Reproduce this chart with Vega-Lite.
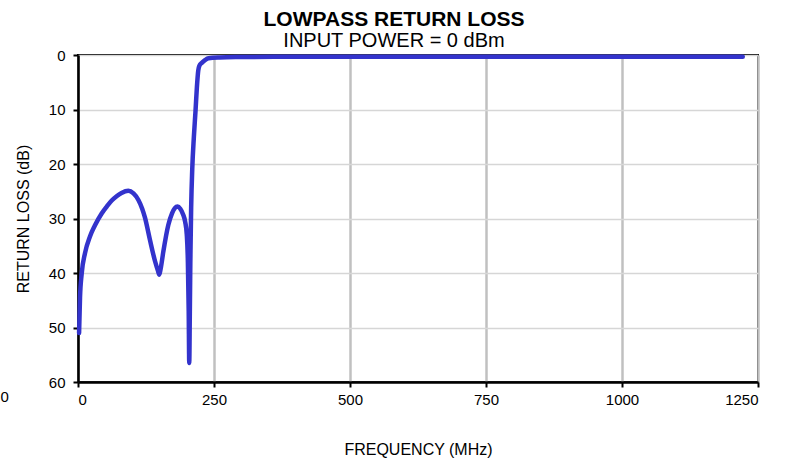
{
  "$schema": "https://vega.github.io/schema/vega-lite/v6.json",
  "width": 680,
  "height": 327,
  "autosize": "none",
  "padding": {"left": 78, "top": 55, "right": 37, "bottom": 81},
  "background": "white",
  "title": {
    "text": "LOWPASS RETURN LOSS",
    "subtitle": "INPUT POWER = 0 dBm",
    "anchor": "middle",
    "frame": "group",
    "dx": -24,
    "dy": 7,
    "font": "Liberation Sans",
    "fontSize": 21,
    "fontWeight": "bold",
    "color": "black",
    "subtitleFont": "Liberation Sans",
    "subtitleFontSize": 20,
    "subtitleColor": "black",
    "subtitlePadding": 1,
    "offset": 4
  },
  "config": {
    "view": {"stroke": "black", "strokeWidth": 2},
    "axis": {
      "labelFont": "Liberation Sans",
      "labelFontSize": 15,
      "labelColor": "black",
      "titleFont": "Liberation Sans",
      "titleFontSize": 16,
      "titleFontWeight": "normal",
      "titleColor": "black",
      "domainColor": "black",
      "domainWidth": 2.5,
      "tickColor": "black",
      "tickWidth": 2,
      "tickSize": 5
    }
  },
  "data": {
    "values": [
      {"f": 2, "rl": 51},
      {"f": 3.7, "rl": 44.5},
      {"f": 6.7, "rl": 40.2},
      {"f": 13, "rl": 36.3},
      {"f": 22, "rl": 33.3},
      {"f": 31, "rl": 31.3},
      {"f": 43.5, "rl": 29.1},
      {"f": 53, "rl": 27.8},
      {"f": 62, "rl": 26.7},
      {"f": 71, "rl": 25.9},
      {"f": 80, "rl": 25.3},
      {"f": 92.5, "rl": 24.9},
      {"f": 102, "rl": 25.4},
      {"f": 111, "rl": 26.6},
      {"f": 118, "rl": 28.2},
      {"f": 123, "rl": 29.8},
      {"f": 132, "rl": 33.8},
      {"f": 141.5, "rl": 37.8},
      {"f": 147, "rl": 39.6},
      {"f": 149.5, "rl": 40.3},
      {"f": 152, "rl": 39.2},
      {"f": 157, "rl": 36},
      {"f": 166, "rl": 31.2},
      {"f": 173, "rl": 29},
      {"f": 178, "rl": 28.1},
      {"f": 183, "rl": 27.8},
      {"f": 188, "rl": 28.2},
      {"f": 193, "rl": 29.2},
      {"f": 197, "rl": 30.6},
      {"f": 200, "rl": 33},
      {"f": 202, "rl": 38},
      {"f": 203.5, "rl": 47},
      {"f": 204.5, "rl": 56.5},
      {"f": 205.5, "rl": 48},
      {"f": 206.5, "rl": 38},
      {"f": 208, "rl": 28},
      {"f": 210, "rl": 21},
      {"f": 213, "rl": 15},
      {"f": 216, "rl": 10.3},
      {"f": 218.5, "rl": 6},
      {"f": 221, "rl": 2.9},
      {"f": 223, "rl": 2.0},
      {"f": 228, "rl": 1.4},
      {"f": 234, "rl": 0.9},
      {"f": 240, "rl": 0.6},
      {"f": 260, "rl": 0.45},
      {"f": 290, "rl": 0.38},
      {"f": 400, "rl": 0.32},
      {"f": 600, "rl": 0.3},
      {"f": 800, "rl": 0.3},
      {"f": 1000, "rl": 0.3},
      {"f": 1222, "rl": 0.33}
    ]
  },
  "layer": [
    {
      "mark": {"type": "line", "color": "#3333CC", "strokeWidth": 4.5, "strokeCap": "round", "strokeJoin": "round", "interpolate": "monotone", "clip": false},
      "encoding": {
        "x": {
          "field": "f",
          "type": "quantitative",
          "scale": {"domain": [0, 1250], "nice": false, "zero": false},
          "axis": {
            "title": "FREQUENCY (MHz)",
            "values": [0, 250, 500, 750, 1000, 1250],
            "format": "d",
            "grid": true,
            "gridColor": "#c0c0c0",
            "gridWidth": 2.5,
            "labelPadding": 5,
            "titlePadding": 34
          }
        },
        "y": {
          "field": "rl",
          "type": "quantitative",
          "scale": {"domain": [0, 60], "reverse": true, "nice": false},
          "axis": {
            "title": "RETURN LOSS (dB)",
            "values": [0, 10, 20, 30, 40, 50, 60],
            "grid": true,
            "gridColor": "#d6d6d6",
            "gridWidth": 1.5,
            "labelPadding": 8,
            "titlePadding": 17
          }
        }
      }
    },
    {
      "data": {"values": [{"f": -135, "rl": 62.7, "label": "0"}]},
      "mark": {"type": "text", "font": "Liberation Sans", "fontSize": 15, "color": "black", "align": "center", "baseline": "middle", "clip": false},
      "encoding": {
        "x": {"field": "f", "type": "quantitative"},
        "y": {"field": "rl", "type": "quantitative"},
        "text": {"field": "label"}
      }
    }
  ]
}
